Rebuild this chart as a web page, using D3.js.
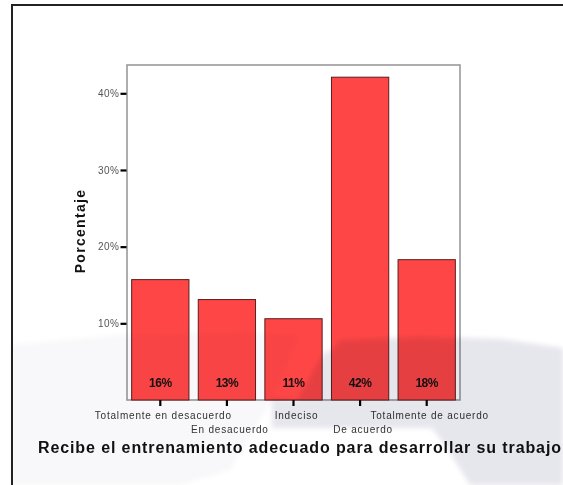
<!DOCTYPE html>
<html>
<head>
<meta charset="utf-8">
<script src="https://cdn.jsdelivr.net/npm/d3@7/dist/d3.min.js"></script>
<style>
  html, body { margin: 0; padding: 0; background: #fff; }
  svg { display: block; font-family: Arial, "Liberation Sans", sans-serif; }
</style>
</head>
<body>
<svg id="chart" width="563" height="485"></svg>
<script>
// Response categories, percentages and tick labels
const categories = [
  "Totalmente en desacuerdo",
  "En desacuerdo",
  "Indeciso",
  "De acuerdo",
  "Totalmente de acuerdo"
];
const percentages = [15.7, 13.1, 10.6, 42.1, 18.3];
const yTicks = [10, 20, 30, 40];
const yTickLabels = ["10%", "20%", "30%", "40%"];
const xTitle = "Recibe el entrenamiento adecuado para desarrollar su trabajo";
const yTitle = "Porcentaje";

const svg = d3.select("#chart");

// Plot box
const box = { left: 127, right: 460, top: 65, bottom: 400 };

const x = d3.scaleBand()
  .domain(categories)
  .range([box.left, box.right])
  .paddingInner(0.14)
  .paddingOuter(0.07);

const y = d3.scaleLinear()
  .domain([0, 40])
  .range([box.bottom, 93.3]);

// Outer frame (top and left edges)
svg.append("path")
  .attr("d", `M12,485 L12,5 L563,5`)
  .attr("fill", "none")
  .attr("stroke", "#222")
  .attr("stroke-width", 2);

// Plot frame
svg.append("rect")
  .attr("x", box.left).attr("y", box.top)
  .attr("width", box.right - box.left)
  .attr("height", box.bottom - box.top)
  .attr("fill", "#fff")
  .attr("stroke", "#9a9a9a")
  .attr("stroke-width", 1.6);

// Bars
svg.append("g").selectAll("rect")
  .data(categories)
  .join("rect")
  .attr("x", d => x(d))
  .attr("y", (d, i) => y(percentages[i]))
  .attr("width", x.bandwidth())
  .attr("height", (d, i) => y(0) - y(percentages[i]))
  .attr("fill", "#ff4646")
  .attr("stroke", "#5c1c1c")
  .attr("stroke-width", 1);

// Value labels inside bars
svg.append("g").selectAll("text")
  .data(categories)
  .join("text")
  .attr("x", d => x(d) + x.bandwidth() / 2)
  .attr("y", 387)
  .attr("text-anchor", "middle")
  .attr("font-size", 12)
  .attr("font-weight", "bold")
  .attr("letter-spacing", -0.5)
  .attr("fill", "#111")
  .text((d, i) => Math.round(percentages[i]) + "%");

// Y axis
const yAxis = d3.axisLeft(y)
  .tickValues(yTicks)
  .tickFormat((d, i) => yTickLabels[i])
  .tickSize(6)
  .tickPadding(1);
const gy = svg.append("g")
  .attr("transform", `translate(${box.left - 0.5},0)`)
  .call(yAxis);
gy.select(".domain").remove();
gy.selectAll(".tick line").attr("stroke", "#000").attr("stroke-width", 2.2);
gy.selectAll(".tick text")
  .attr("font-size", 10)
  .attr("font-family", "Arial, 'Liberation Sans', sans-serif")
  .attr("letter-spacing", 0.5)
  .attr("fill", "#555");

// X axis
const xAxis = d3.axisBottom(x).tickSize(6).tickFormat("");
const gx = svg.append("g")
  .attr("transform", `translate(0,${box.bottom})`)
  .call(xAxis);
gx.select(".domain").remove();
gx.selectAll(".tick line").attr("stroke", "#000").attr("stroke-width", 2.2);

// Staggered category labels
svg.append("g").selectAll("text")
  .data(categories)
  .join("text")
  .attr("x", d => x(d) + x.bandwidth() / 2 + 3)
  .attr("y", (d, i) => i % 2 === 0 ? 419 : 433)
  .attr("text-anchor", "middle")
  .attr("font-size", 10)
  .attr("letter-spacing", 0.8)
  .attr("fill", "#333")
  .text(d => d);

// Axis titles
svg.append("text")
  .attr("x", 38)
  .attr("y", 453)
  .attr("font-size", 16)
  .attr("font-weight", "bold")
  .attr("fill", "#111")
  .attr("textLength", 523)
  .attr("lengthAdjust", "spacing")
  .text(xTitle);

svg.append("text")
  .attr("transform", `translate(85,231) rotate(-90)`)
  .attr("text-anchor", "middle")
  .attr("font-size", 14)
  .attr("font-weight", "bold")
  .attr("letter-spacing", 1.3)
  .attr("fill", "#111")
  .text(yTitle);

// Faint page watermark in the lower area, blended over the chart
const defs = svg.append("defs");
defs.append("filter").attr("id", "soft")
  .attr("x", "-10%").attr("y", "-10%").attr("width", "120%").attr("height", "120%")
  .append("feGaussianBlur").attr("stdDeviation", 2.5);
const wm = svg.append("g")
  .style("mix-blend-mode", "multiply")
  .attr("filter", "url(#soft)");
wm.append("path")
  .attr("d", "M12,345 L120,335 L250,332 L300,335 L272,400 L230,470 L180,485 L12,485 Z")
  .attr("fill", "#f8f8fa");
wm.append("path")
  .attr("d", "M272,428 L272,398 L297,400 L323,353 L332,350 L340,340 L420,337 L500,339 L563,348 L563,485 L470,485 L445,445 L432,428 Z")
  .attr("fill", "#e6e6ed");
</script>
</body>
</html>
